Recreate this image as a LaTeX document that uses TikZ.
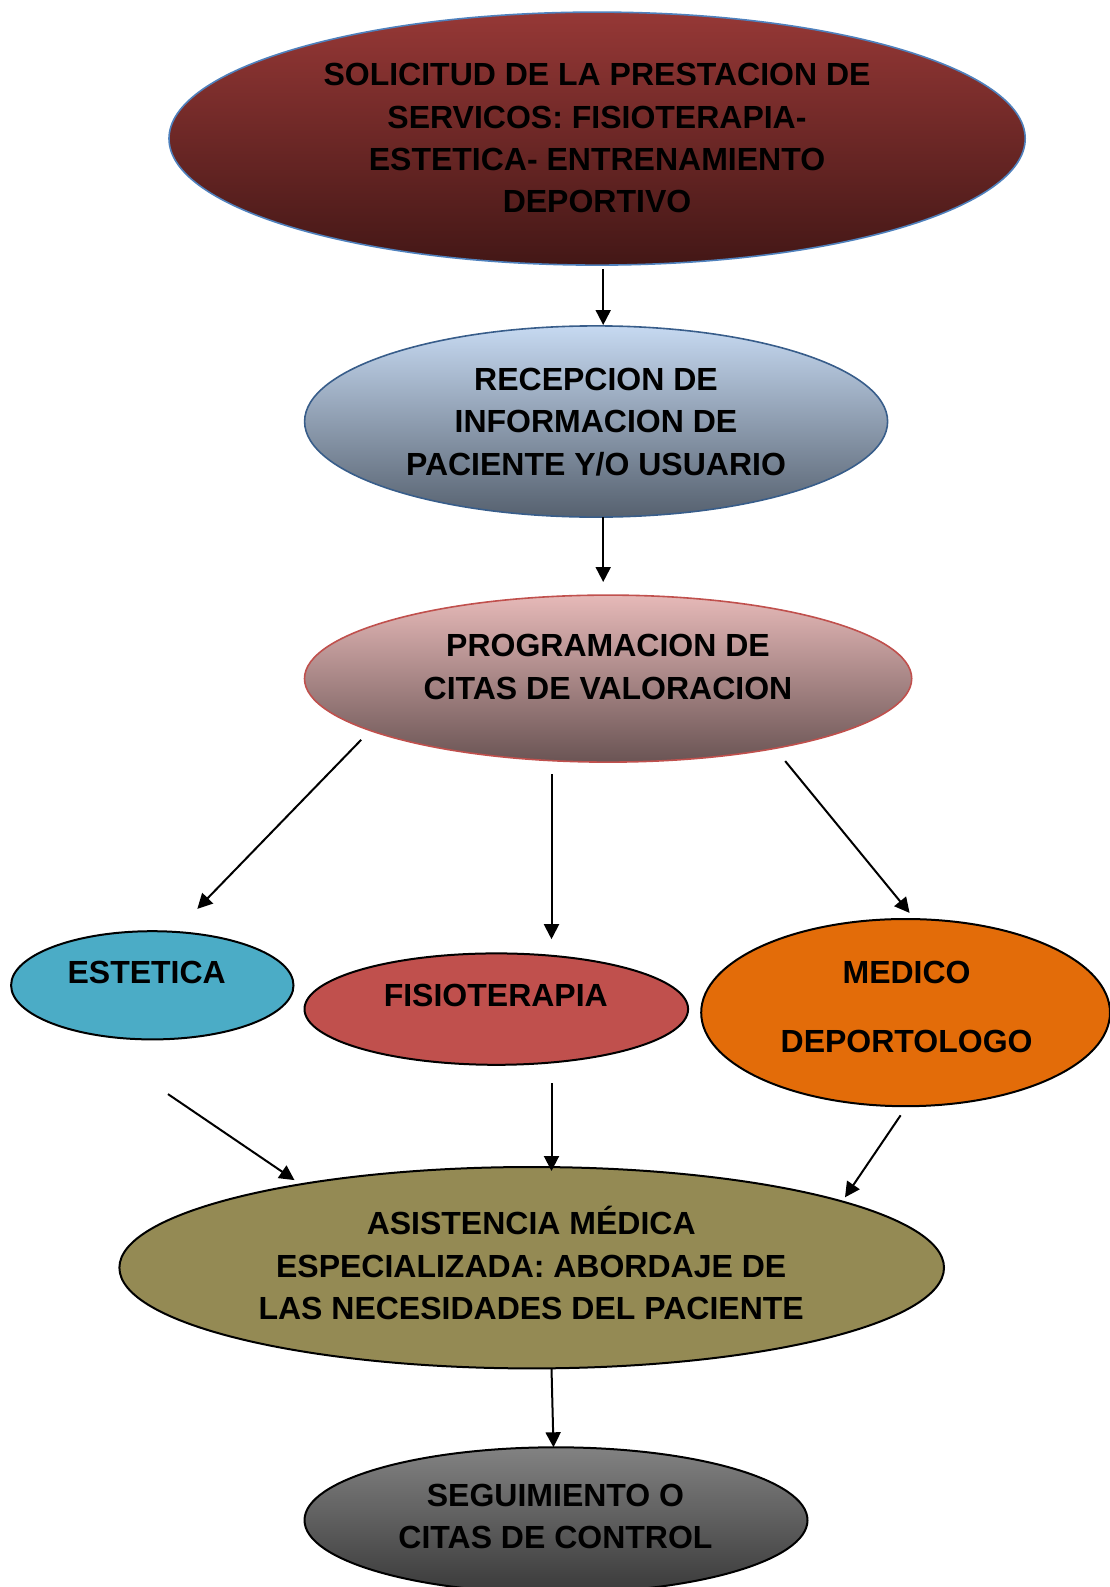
\documentclass[tikz,border=0pt]{standalone}
\usepackage{fontspec}
\setmainfont{Liberation Sans}
\usetikzlibrary{shapes.geometric,arrows.meta}
\definecolor{aTop}{HTML}{963836}
\definecolor{aBot}{HTML}{431716}
\definecolor{aBrd}{HTML}{4F81BD}
\definecolor{bTop}{HTML}{C6D9F1}
\definecolor{bBot}{HTML}{56616F}
\definecolor{bBrd}{HTML}{385D8A}
\definecolor{cTop}{HTML}{E6B9B8}
\definecolor{cBot}{HTML}{6A5454}
\definecolor{cBrd}{HTML}{C0504D}
\definecolor{estF}{HTML}{4BACC6}
\definecolor{fisF}{HTML}{C0504D}
\definecolor{medF}{HTML}{E36C09}
\definecolor{asiF}{HTML}{948A54}
\definecolor{segTop}{HTML}{828282}
\definecolor{segBot}{HTML}{3A3A3A}
\begin{document}
\begin{tikzpicture}[x=1pt,y=1pt,
  ell/.style={ellipse, inner sep=0pt, line width=1.6pt},
  dark/.style={ell, draw=black, line width=2pt},
  lbl/.style={font=\bfseries\fontsize{32}{42.3}\selectfont, align=center, inner sep=0pt, text=black},
  arr/.style={line width=2pt, -{Triangle[length=15pt,width=15pt]}}]
\useasboundingbox (0,0) rectangle (1110,-1587);
\clip (0,0) rectangle (1110,-1587);

% ellipses
\node[ell, minimum width=856.2pt, minimum height=253pt, draw=aBrd, top color=aTop, bottom color=aBot] (e1) at (597.1,-138.6) {};
\node[ell, minimum width=583pt, minimum height=191.2pt, draw=bBrd, top color=bTop, bottom color=bBot] (e2) at (596.1,-421.5) {};
\node[ell, minimum width=607.2pt, minimum height=167pt, draw=cBrd, top color=cTop, bottom color=cBot] (e3) at (608.1,-678.6) {};
\node[dark, minimum width=282.4pt, minimum height=108.2pt, fill=estF] (est) at (152.3,-985.3) {};
\node[dark, minimum width=383.6pt, minimum height=111.4pt, fill=fisF] (fis) at (496.3,-1009.1) {};
\node[dark, minimum width=408.8pt, minimum height=187.2pt, fill=medF] (med) at (905.6,-1012.6) {};
\node[dark, minimum width=824.6pt, minimum height=201.4pt, fill=asiF] (asi) at (531.7,-1267.7) {};
\node[dark, minimum width=503pt, minimum height=145.8pt, top color=segTop, bottom color=segBot] (seg) at (556,-1520.2) {};

% labels
\node[lbl] (t1) at (597,-138.2) {SOLICITUD DE LA PRESTACION DE\\SERVICOS: FISIOTERAPIA-\\ESTETICA- ENTRENAMIENTO\\DEPORTIVO};
\node[lbl] (t2) at (596,-422) {RECEPCION DE\\INFORMACION DE\\PACIENTE Y/O USUARIO};
\node[lbl] (t3) at (608,-667) {PROGRAMACION DE\\CITAS DE VALORACION};
\node[lbl] (t4) at (146.7,-972.6) {ESTETICA};
\node[lbl] (t5) at (495.8,-995.9) {FISIOTERAPIA};
\node[lbl, font=\bfseries\fontsize{32}{68.8}\selectfont] (t6) at (906.6,-1007) {MEDICO\\DEPORTOLOGO};
\node[lbl] (t7) at (531.2,-1266.1) {ASISTENCIA M\smash{É}DICA\\ESPECIALIZADA: ABORDAJE DE\\LAS NECESIDADES DEL PACIENTE};
\node[lbl] (t8) at (555.5,-1516.2) {SEGUIMIENTO O\\CITAS DE CONTROL};

% connector end points
\coordinate (p1s) at (603.2,-269.2);  \coordinate (p1e) at (603.2,-325);
\coordinate (p2s) at (603.2,-517.2);  \coordinate (p2e) at (603.2,-582);
\coordinate (pas) at (361.2,-739.8);  \coordinate (pae) at (197.3,-908.9);
\coordinate (pbs) at (551.5,-774.3);  \coordinate (pbe) at (551.5,-939.2);
\coordinate (pcs) at (785.2,-761.1);  \coordinate (pce) at (909.6,-912.9);
\coordinate (pds) at (168,-1094.1);   \coordinate (pde) at (294.5,-1180.1);
\coordinate (pes) at (551.5,-1083);   \coordinate (pee) at (551.5,-1171);
\coordinate (pfs) at (900.6,-1115.3); \coordinate (pfe) at (845,-1197.3);
\coordinate (pgs) at (551.5,-1368.4); \coordinate (pge) at (553.5,-1447.3);

% connectors
\draw[arr] (p1s) -- (p1e);
\draw[arr] (p2s) -- (p2e);
\draw[arr] (pas) -- (pae);
\draw[arr] (pbs) -- (pbe);
\draw[arr] (pcs) -- (pce);
\draw[arr] (pds) -- (pde);
\draw[arr] (pes) -- (pee);
\draw[arr] (pfs) -- (pfe);
\draw[arr] (pgs) -- (pge);
\end{tikzpicture}
\end{document}
